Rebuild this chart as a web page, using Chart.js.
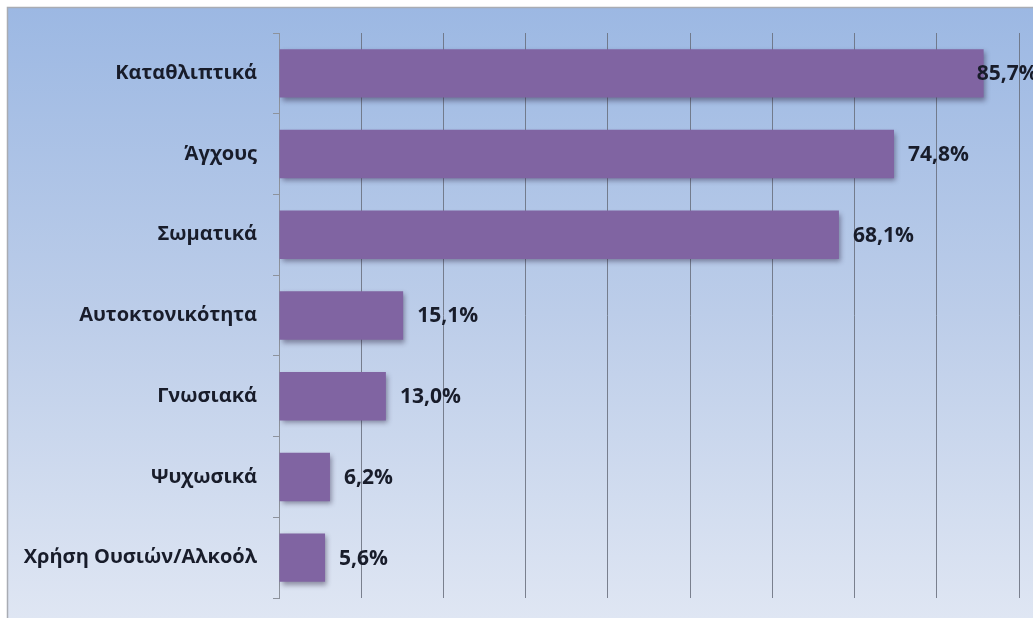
<!DOCTYPE html>
<html>
<head>
<meta charset="utf-8">
<script src="https://cdn.jsdelivr.net/npm/chart.js@4.4.1/dist/chart.umd.min.js"></script>
<style>
  html, body { margin: 0; padding: 0; background: #ffffff; }
  #wrap { width: 1033px; height: 618px; position: relative; }
</style>
</head>
<body>
<div id="wrap"><canvas id="c" width="1033" height="618"></canvas></div>
<script>
const categories = ["Καταθλιπτικά", "Άγχους", "Σωματικά", "Αυτοκτονικότητα", "Γνωσιακά", "Ψυχωσικά", "Χρήση Ουσιών/Αλκοόλ"];
const values = [85.7, 74.8, 68.1, 15.1, 13.0, 6.2, 5.6];
const xMin = 0, xMax = 90, xStep = 10;

const FONT = "'Open Sans', 'DejaVu Sans', sans-serif";

const bgPlugin = {
  id: 'bg',
  beforeDraw(chart) {
    const ctx = chart.ctx;
    const W = chart.width, H = chart.height;
    ctx.save();
    ctx.fillStyle = '#ffffff';
    ctx.fillRect(0, 0, W, H);
    const g = ctx.createLinearGradient(0, 7, 0, H);
    g.addColorStop(0, '#9cb8e3');
    g.addColorStop(0.5, '#bccde9');
    g.addColorStop(1, '#dfe6f3');
    ctx.fillStyle = g;
    ctx.fillRect(7, 7, W, H);
    ctx.strokeStyle = '#a9acb3';
    ctx.lineWidth = 1.5;
    ctx.beginPath();
    ctx.moveTo(7.5, H + 2);
    ctx.lineTo(7.5, 7.5);
    ctx.lineTo(W + 2, 7.5);
    ctx.stroke();
    ctx.restore();
  }
};

const shadowPlugin = {
  id: 'barShadow',
  beforeDatasetsDraw(chart) {
    const ctx = chart.ctx;
    ctx.save();
    ctx.shadowColor = 'rgba(40,30,60,0.45)';
    ctx.shadowBlur = 5;
    ctx.shadowOffsetX = 2;
    ctx.shadowOffsetY = 3;
  },
  afterDatasetsDraw(chart) {
    chart.ctx.restore();
  }
};

const labelPlugin = {
  id: 'valueLabels',
  afterDatasetsDraw(chart) {
    const ctx = chart.ctx;
    const meta = chart.getDatasetMeta(0);
    const data = chart.data.datasets[0].data;
    ctx.save();
    ctx.font = "bold 21px " + FONT;
    ctx.fillStyle = '#181c2a';
    ctx.textBaseline = 'middle';
    ctx.textAlign = 'left';
    meta.data.forEach((el, i) => {
      const txt = data[i].toFixed(1).replace('.', ',') + '%';
      const w = ctx.measureText(txt).width;
      let x = el.x + 14;
      if (x + w > chart.width) x = el.x - 7;
      ctx.fillText(txt, x, el.y + 1);
    });
    ctx.restore();
  }
};

new Chart(document.getElementById('c'), {
  type: 'bar',
  data: {
    labels: categories,
    datasets: [{
      data: values,
      backgroundColor: '#8064a2',
      borderWidth: 0,
      barPercentage: 1.0,
      categoryPercentage: 0.6
    }]
  },
  options: {
    indexAxis: 'y',
    responsive: false,
    animation: false,
    devicePixelRatio: 1,
    layout: { padding: { top: 33, bottom: 20, right: 14, left: 0 } },
    plugins: {
      legend: { display: false },
      tooltip: { enabled: false }
    },
    scales: {
      x: {
        min: xMin, max: xMax,
        ticks: { display: false, stepSize: xStep },
        grid: { color: 'rgba(105,110,125,0.85)', lineWidth: 1, drawTicks: false },
        border: { display: false },
        afterFit(scale) { scale.height = 0; scale.paddingLeft = 0; scale.paddingRight = 0; }
      },
      y: {
        grid: { drawOnChartArea: false, offset: true, tickLength: 6, color: '#8d929c' },
        border: { display: true, color: '#8d929c', width: 1 },
        ticks: {
          font: { family: FONT, size: 20, weight: 'bold' },
          color: '#181c2a',
          padding: 16
        },
        afterFit(scale) { scale.width = 279; scale.paddingTop = 0; scale.paddingBottom = 0; }
      }
    }
  },
  plugins: [bgPlugin, shadowPlugin, labelPlugin]
});
</script>
</body>
</html>
